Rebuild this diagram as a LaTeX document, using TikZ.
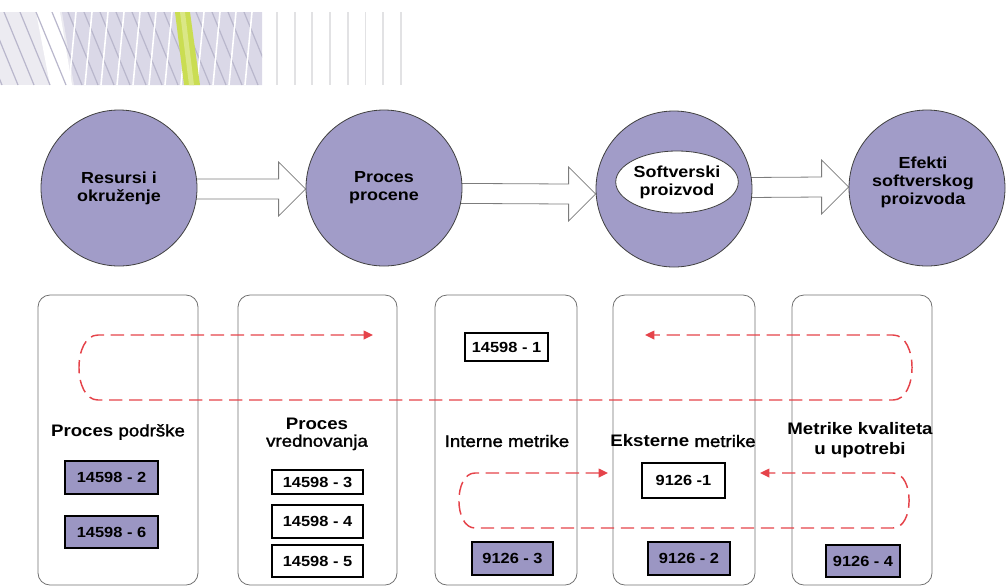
\documentclass[tikz,border=0pt]{standalone}
\usepackage{fontspec}
\setmainfont{Liberation Sans}[FakeStretch=1.12]
\newfontfamily\mediumfont{Liberation Sans}[FakeStretch=1.12,FakeBold=1.6]
\newcommand\bw[1]{{\normalfont\bfseries #1}}
\usetikzlibrary{shapes.geometric,arrows.meta,calc,backgrounds}

\definecolor{lav}{HTML}{A19CC8}
\definecolor{boxlav}{HTML}{9B96C3}
\definecolor{loopred}{HTML}{E5434A}
\definecolor{panelgray}{HTML}{707070}
\definecolor{arrowgray}{HTML}{7C7C7C}
\definecolor{hdrpale}{HTML}{ECEBF1}
\definecolor{hdrlav}{HTML}{DAD8E7}
\definecolor{hdrline}{HTML}{B9B7CC}
\definecolor{hdrvline}{HTML}{E2E2E4}
\definecolor{hdrgreen}{HTML}{CADD52}

% block arrow: #1 source node, #2 target node, #3 vertical offset of the axis
\newcommand\blockarrow[3]{%
  \draw[fatarrow]
    ($(#1.center)+(0,#3-10)$) -- ($(#2.west)+(-27,#3-10)$)
    -- ($(#2.west)+(-27,#3-27)$) -- ($(#2.west)+(0,#3)$)
    -- ($(#2.west)+(-27,#3+27)$) -- ($(#2.west)+(-27,#3+10)$)
    -- ($(#1.center)+(0,#3+10)$);}

\begin{document}
\begin{tikzpicture}[x=0.75pt,y=-0.75pt,
  phase/.style={circle,draw=black!75,line width=0.6pt,fill=lav,
    minimum size=117pt,inner sep=0pt},
  phasetext/.style={font=\fontsize{12}{13.5}\selectfont\bfseries,align=center},
  fatarrow/.style={draw=arrowgray,line width=0.6pt,fill=white,line join=miter},
  panel/.style={draw=panelgray,line width=0.6pt,rounded corners=9pt,
    minimum height=217.5pt,inner sep=0pt},
  plabel/.style={font=\fontsize{12.5}{13}\selectfont\mediumfont,align=center,inner sep=0pt},
  std/.style={draw=black,line width=0.8pt,fill=white,inner sep=0pt,
    font=\fontsize{11}{12}\selectfont\bfseries},
  stdfill/.style={std,fill=boxlav},
  loop/.style={loopred,line width=1.1pt,dash pattern=on 10pt off 5pt,
    {Triangle[length=7pt,width=6.5pt]}-{Triangle[length=7pt,width=6.5pt]}},
]
\useasboundingbox (0,0) rectangle (1006,587);

% ---- header band ----
\begin{scope}
  \clip (0,12) rectangle (262,85);
  \fill[hdrpale] (0,12) rectangle (262,85);
  \fill[white] (36,12) -- (60,12) -- (72,85) -- (50,85) -- cycle;
  \fill[hdrlav] (62,12) -- (262,12) -- (262,85) -- (74,85) -- cycle;
  \foreach \x in {-60,-44,...,250}
    \draw[hdrline,line width=0.9pt] (\x,12) -- (\x+30,85);
  \foreach \x in {76,92,...,262}
    \draw[white,line width=1.2pt] (\x,12) -- (\x-7,85);
  \fill[hdrgreen] (175,12) -- (190,12) -- (200,85) -- (184,85) -- cycle;
  \fill[hdrgreen!70!white] (180,12) -- (185,12) -- (194,85) -- (189,85) -- cycle;
\end{scope}
\foreach \x in {277,294.7,...,402}
  \draw[hdrvline,line width=1.4pt] (\x,12) -- (\x,85);

% ---- phases ----
\node[phase,phasetext] (c1) at (119,188) {Resursi i\\okruženje};
\node[phase,phasetext] (c2) at (384,188) {Proces\\procene};
\node[phase] (c3) at (674,189) {};
\node[ellipse,draw=black!75,line width=0.6pt,fill=white,
  minimum width=90pt,minimum height=46.5pt,inner sep=0pt,phasetext]
  (c3in) at (677,182) {Softverski\\proizvod};
\node[phase] (c4) at (927,188) {};
\node[phasetext] (c4t) at (923,182) {Efekti\\softverskog\\proizvoda};

\begin{scope}[on background layer]
  \blockarrow{c1}{c2}{1}
  \blockarrow{c2}{c3}{5}
  \blockarrow{c3}{c4}{-1}
\end{scope}

% ---- panels ----
\node[panel,minimum width=120pt]   (p1) at (118,440) {};
\node[panel,minimum width=119.25pt] (p2) at (317.5,440) {};
\node[panel,minimum width=106.5pt] (p3) at (506,440) {};
\node[panel,minimum width=106.5pt] (p4) at (684,440) {};
\node[panel,minimum width=105pt]   (p5) at (862,440) {};

\node[plabel] (l1) at (118,432) {\bw{Proces} podrške};
\node[plabel] (l2) at (317,434) {\bw{Proces}\\vrednovanja};
\node[plabel] (l3) at (507,441) {Interne metrike};
\node[plabel] (l4) at (683,441) {\bw{Eksterne} metrike};
\node[plabel,font=\fontsize{12.5}{15}\selectfont\bfseries] (l5) at (860,440)
  {Metrike kvaliteta\\u upotrebi};

% ---- standards ----
\node[stdfill,minimum width=69.75pt,minimum height=24.75pt] (s2) at (111.5,477.5) {14598 - 2};
\node[stdfill,minimum width=69.75pt,minimum height=24pt]    (s6) at (111.5,532) {14598 - 6};
\node[std,minimum width=68.25pt,minimum height=18pt]        (s3) at (317.5,482) {14598 - 3};
\node[std,minimum width=68.25pt,minimum height=24.75pt]     (s4) at (317.5,521.5) {14598 - 4};
\node[std,minimum width=68.25pt,minimum height=24pt]        (s5) at (317.5,561) {14598 - 5};
\node[std,minimum width=62.25pt,minimum height=21pt]        (s1) at (506.5,347) {14598 - 1};
\node[stdfill,minimum width=60.75pt,minimum height=24.75pt] (m3) at (512.5,558.5) {9126 - 3};
\node[std,minimum width=62.25pt,minimum height=26.25pt]     (m1) at (683.5,480.5) {9126 -1};
\node[stdfill,minimum width=61.5pt,minimum height=24.75pt]  (m2) at (689,558.5) {9126 - 2};
\node[stdfill,minimum width=55.5pt,minimum height=24pt]     (m4) at (863,561) {9126 - 4};

% ---- feedback loops ----
\coordinate (ua) at (373,335);
\coordinate (ub) at (645,335);
\coordinate (la) at (608,473);
\coordinate (lb) at (760,473);
\draw[loop] (ua) -- (98,335) to[out=180,in=180] (98,400) -- (893,400)
  to[out=0,in=0] (893,335) -- (ub);
\draw[loop] (la) -- (475,473) to[out=180,in=180] (475,528) -- (893,528)
  to[out=0,in=0] (893,473) -- (lb);
\end{tikzpicture}
\end{document}
